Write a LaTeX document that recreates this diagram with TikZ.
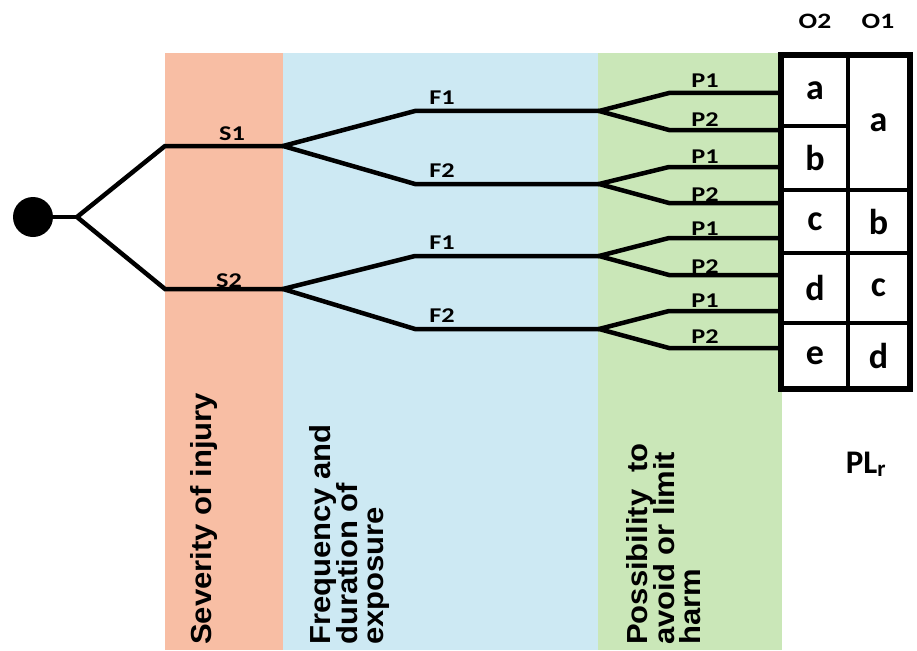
\documentclass[tikz,border=0pt]{standalone}
\usepackage{graphicx}
\usepackage{fontspec}
\setmainfont{Carlito}
\newfontfamily\arialfont{Liberation Sans}
\definecolor{orangeband}{RGB}{248,190,164}
\definecolor{blueband}{RGB}{205,233,243}
\definecolor{greenband}{RGB}{202,231,184}
\newcommand\wide[1]{\scalebox{1.25}[1]{#1}}
\newcommand\stretchtxt[1]{\scalebox{1.07}[1]{#1}}
\begin{document}
\begin{tikzpicture}[x=1pt,y=-1pt,
  branch/.style={line width=4.5pt, line join=miter},
  lab/.style={font=\fontsize{21}{24}\selectfont\bfseries, inner sep=0pt, anchor=base},
  vlab/.style={font=\fontsize{29}{29}\arialfont\bfseries, rotate=90, anchor=base west, inner sep=0pt},
  cell/.style={draw, line width=3.5pt, fill=white, inner sep=0pt, font=\fontsize{36}{36}\selectfont\bfseries},
]
\useasboundingbox (0,0) rectangle (917,650);
% bands
\fill[orangeband] (165,53) rectangle (283,650);
\fill[blueband] (283,53) rectangle (598,650);
\fill[greenband] (598,53) rectangle (782,650);

% table cells
\node[cell, minimum width=66pt, minimum height=70pt] (a2) at (815,91) {a};
\node[cell, minimum width=66pt, minimum height=64pt] (b2) at (815,158) {b};
\node[cell, minimum width=66pt, minimum height=63pt] (c2) at (815,221.5) {c};
\node[cell, minimum width=66pt, minimum height=70pt] (d2) at (815,288) {d};
\node[cell, minimum width=66pt, minimum height=65pt] (e2) at (815,355.5) {e};
\node[cell, minimum width=61pt, minimum height=134pt] (a1) at (878.5,123) {a};
\node[cell, minimum width=61pt, minimum height=63pt] (b1) at (878.5,221.5) {b};
\node[cell, minimum width=61pt, minimum height=70pt] (c1) at (878.5,288) {c};
\node[cell, minimum width=61pt, minimum height=65pt] (d1) at (878.5,355.5) {d};
\draw[line width=5pt] (a2.north west) rectangle (d1.south east);

% column headers
\node[lab, font=\fontsize{22}{26}\selectfont\bfseries] (o2) at (815,29) {\wide{O2}};
\node[lab, font=\fontsize{22}{26}\selectfont\bfseries] (o1) at (878,29) {\wide{O1}};
\node[lab, font=\fontsize{33}{38}\selectfont\bfseries] (plr) at (866,473) {PL\textsubscript{r}};

% tree points
\node[circle, fill=black, minimum size=40pt, inner sep=0pt] (root) at (33,217) {};
\coordinate (k0) at (77,217);
\coordinate (s1a) at (165,146); \coordinate (s1b) at (283,146);
\coordinate (s2a) at (165,289); \coordinate (s2b) at (283,289);
% F branches
\coordinate (f1s) at (415,111); \coordinate (pk1) at (599,111);
\coordinate (f2s) at (415,184); \coordinate (pk2) at (599,184);
\coordinate (f3s) at (415,256); \coordinate (pk3) at (599,256);
\coordinate (f4s) at (415,329); \coordinate (pk4) at (599,329);
% P branches
\coordinate (p1s) at (669,93);  \coordinate (p1e) at (782,93);
\coordinate (p2s) at (669,130); \coordinate (p2e) at (782,130);
\coordinate (p3s) at (669,167); \coordinate (p3e) at (782,167);
\coordinate (p4s) at (669,203); \coordinate (p4e) at (782,203);
\coordinate (p5s) at (669,238); \coordinate (p5e) at (782,238);
\coordinate (p6s) at (669,275); \coordinate (p6e) at (782,275);
\coordinate (p7s) at (669,311); \coordinate (p7e) at (782,311);
\coordinate (p8s) at (669,348); \coordinate (p8e) at (782,348);

\draw[branch] (root) -- (k0);
\draw[branch] (s1b) -- (s1a) -- (k0) -- (s2a) -- (s2b);
\draw[branch] (pk1) -- (f1s) -- (s1b) -- (f2s) -- (pk2);
\draw[branch] (pk3) -- (f3s) -- (s2b) -- (f4s) -- (pk4);
\draw[branch] (p1e) -- (p1s) -- (pk1) -- (p2s) -- (p2e);
\draw[branch] (p3e) -- (p3s) -- (pk2) -- (p4s) -- (p4e);
\draw[branch] (p5e) -- (p5s) -- (pk3) -- (p6s) -- (p6e);
\draw[branch] (p7e) -- (p7s) -- (pk4) -- (p8s) -- (p8e);

% branch labels
\node[lab] (ls1) at (232,140) {\wide{S1}};
\node[lab] (ls2) at (229,287) {\wide{S2}};
\node[lab] (lf1) at (442,104) {\wide{F1}};
\node[lab] (lf2) at (442,177) {\wide{F2}};
\node[lab] (lf3) at (442,249) {\wide{F1}};
\node[lab] (lf4) at (442,322) {\wide{F2}};
\node[lab] (lp1) at (705,88) {\wide{P1}};
\node[lab] (lp2) at (705,126) {\wide{P2}};
\node[lab] (lp3) at (705,163) {\wide{P1}};
\node[lab] (lp4) at (705,201) {\wide{P2}};
\node[lab] (lp5) at (705,235) {\wide{P1}};
\node[lab] (lp6) at (705,273) {\wide{P2}};
\node[lab] (lp7) at (705,307) {\wide{P1}};
\node[lab] (lp8) at (705,343) {\wide{P2}};

% vertical band titles
\node[vlab] (sev) at (211,645) {\stretchtxt{Severity of injury}};
\node[vlab] (fr1) at (330,645) {\stretchtxt{Frequency and}};
\node[vlab] (fr2) at (357,645) {\stretchtxt{duration of}};
\node[vlab] (fr3) at (383,645) {\stretchtxt{exposure}};
\node[vlab] (po1) at (647,645) {\stretchtxt{Possibility\ \ to}};
\node[vlab] (po2) at (674,645) {\stretchtxt{avoid or limit}};
\node[vlab] (po3) at (700,645) {\stretchtxt{harm}};
\end{tikzpicture}
\end{document}
